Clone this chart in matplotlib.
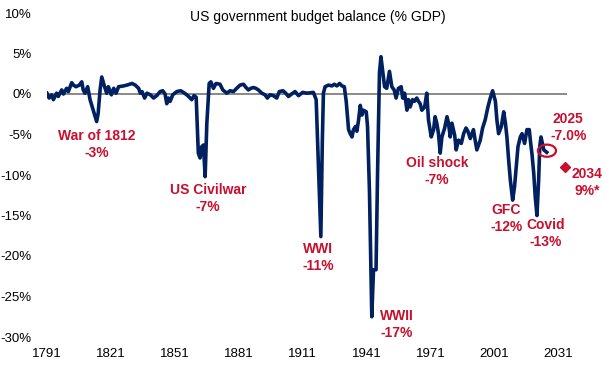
import matplotlib
matplotlib.use('Agg')
import matplotlib.pyplot as plt
from matplotlib.patches import Ellipse

plt.rcParams['font.family'] = ['Liberation Sans', 'DejaVu Sans']

# budget balance, % of GDP (vertex points)
years = [1791, 1792, 1793.2, 1794, 1795.5, 1796.3, 1797.9, 1798.7, 1800.2, 1801,
         1802.6, 1803.4, 1804.6, 1806.2, 1807.3, 1808, 1808.8, 1810.1, 1811.2, 1812.7,
         1814.3, 1815, 1815.9, 1816.7, 1817.9, 1819, 1819.8, 1821.2, 1822.3, 1823.4,
         1824.6, 1827, 1828.5, 1830.9, 1832.4, 1834, 1834.8, 1835.6, 1836.8, 1837.9,
         1839.5, 1841, 1842.5, 1844.1, 1845.3, 1846.4, 1847.2, 1848, 1848.8, 1850,
         1851.9, 1853.7, 1855, 1856.6, 1857.8, 1858.9, 1860, 1861, 1862, 1862.8,
         1863.6, 1864.4, 1865.2, 1866, 1867.1, 1867.9, 1869.1, 1870.3, 1872.2, 1873.5,
         1875.4, 1876.9, 1878.5, 1880, 1881.6, 1883.2, 1884.4, 1885.5, 1886.6, 1887.9,
         1889, 1890.2, 1891.8, 1893.3, 1894.4, 1895.7, 1897.2, 1898.8, 1900, 1901.7,
         1903, 1904.3, 1905.8, 1907.4, 1909, 1911, 1913, 1916, 1917.3, 1918.4,
         1919.5, 1920.2, 1920.7, 1921.5, 1923.1, 1924.7, 1925.8, 1927, 1928.3, 1929.4,
         1930.5, 1931.4, 1932.5, 1933.3, 1934.1, 1934.8, 1935.8, 1936.4, 1937.2, 1938,
         1938.8, 1939.5, 1940.8, 1941.4, 1942.3, 1943.4, 1944.2, 1945.4, 1946.1, 1947,
         1947.7, 1948.6, 1949.4, 1950.4, 1951.7, 1952.8, 1953.9, 1954.8, 1955.9, 1957.2,
         1957.9, 1958.8, 1959.9, 1960.6, 1961.4, 1962.5, 1963.4, 1964.5, 1965.3, 1966.1,
         1966.9, 1968.2, 1969.2, 1970, 1971.3, 1972.4, 1973.1, 1973.9, 1974.7, 1975.5,
         1976.3, 1977.6, 1978.7, 1979.4, 1980.2, 1981, 1982.3, 1983, 1984.1, 1985.4,
         1986.5, 1987.6, 1988.5, 1989.6, 1991.1, 1991.9, 1992.7, 1994.3, 1995.4, 1996.6,
         1997.9, 1999, 2000.1, 2001.4, 2002.1, 2002.9, 2004.2, 2005.3, 2006.1, 2006.8,
         2007.6, 2008.4, 2009.5, 2010.4, 2011.2, 2012, 2013.1, 2013.9, 2015.1, 2016.2,
         2017.3, 2017.8, 2018.6, 2019.4, 2020.1, 2020.9, 2021.7, 2022.2, 2022.8, 2024.1,
         2025.5]
balance = [0.1, -0.5, -0.1, -0.7, 0.1, -0.3, 0.5, 0.0, 0.7, 0.3,
           1.4, 1.1, 0.9, 1.1, 1.5, 0.5, 0.1, 0.9, -0.7, -2.0,
           -3.4, -2.4, 0.5, 2.1, 1.0, 0.1, 0.9, -0.1, 0.7, 0.1,
           0.9, 1.0, 1.1, 1.3, 1.1, 0.7, 0.1, 0.3, -0.5, 0.1,
           -0.1, -0.5, -0.2, 0.3, 0.4, 0.0, -1.2, -0.5, -0.9, -0.1,
           0.3, 0.4, 0.2, -0.1, -0.4, -0.7, -0.2, -0.4, -7.3, -7.9,
           -6.5, -6.3, -10.2, -3.6, 1.3, 1.5, 0.7, 1.3, 1.2, 0.5,
           0.1, 0.4, 0.3, 0.7, 1.1, 1.2, 0.8, 0.5, 0.7, 0.8,
           0.7, 0.5, 0.1, -0.1, -0.5, -0.1, -0.2, -0.5, 0.3, 0.4,
           0.1, -0.3, 0.0, 0.3, -0.2, 0.2, 0.1, 0.2, -0.7, -9.0,
           -17.6, -5.7, 0.1, 0.9, 1.1, 1.0, 1.2, 1.0, 1.3, 1.0,
           0.9, -0.9, -4.4, -4.9, -5.3, -4.4, -4.0, -4.6, -3.2, -1.4,
           -2.6, -2.0, -2.2, -4.0, -11.9, -27.5, -21.7, -21.7, -9.8, 2.6,
           4.6, 2.6, 0.9, 0.7, 2.8, 0.9, 0.5, -0.5, 0.7, 0.9,
           -0.5, 0.1, -2.0, -0.7, -1.6, -0.7, -0.9, -0.5, -0.9, -1.2,
           -2.0, -1.6, 0.1, -3.2, -5.3, -4.4, -2.8, -3.6, -4.9, -7.3,
           -5.3, -4.2, -2.8, -3.6, -5.3, -3.6, -5.1, -6.9, -5.7, -6.1,
           -4.9, -4.2, -4.6, -5.5, -4.4, -5.7, -6.9, -5.7, -4.2, -3.2,
           -1.6, -0.5, 0.4, -0.9, -3.2, -4.9, -4.0, -2.2, -3.6, -5.3,
           -8.1, -10.6, -13.1, -11.4, -9.0, -6.5, -5.3, -4.9, -6.1, -4.4,
           -4.4, -5.7, -7.5, -9.8, -12.7, -15.0, -10.6, -6.5, -5.3, -6.9,
           -7.2]

proj_year = 2034
proj_value = -9.0

yticks = [10, 5, 0, -5, -10, -15, -20, -25, -30]
xticks = [1791, 1821, 1851, 1881, 1911, 1941, 1971, 2001, 2031]

# (text, year, value) for the red call-outs
notes = [
    ('War of 1812\n-3%', 1814.5, -6.2),
    ('US Civilwar\n-7%', 1866.6, -12.9),
    ('WWI\n-11%', 1918.2, -20.2),
    ('WWII\n-17%', 1955.3, -28.5),
    ('Oil shock\n-7%', 1974.1, -9.6),
    ('GFC\n-12%', 2006.5, -15.4),
    ('Covid\n-13%', 2024.8, -17.2),
    ('2025\n-7.0%', 2035.6, -4.1),
    ('2034\n9%*', 2044.5, -10.9),
]

navy = '#002060'
red = '#C8102E'

fig = plt.figure(figsize=(6.05, 3.65), dpi=100)
ax = fig.add_axes([47/605, 1 - 337/365, 520/605, 324/365])

ax.axhline(0, color='#808080', lw=1.3, zorder=1)
ax.plot(years, balance, color=navy, lw=2.6, solid_joinstyle='round', zorder=2)
ax.plot([proj_year], [proj_value], marker='D', ms=5, color=red, zorder=3, clip_on=False)
ax.add_patch(Ellipse((2025.6, -7.0), 8.5, 1.5, fill=False, ec=red, lw=1.6, zorder=3))

for txt, x, y in notes:
    ax.text(x, y, txt, color=red, fontsize=10, fontweight='bold',
            ha='center', va='center', linespacing=1.25, zorder=4)

ax.set_xlim(1791, 2035)
ax.set_ylim(-30, 10)
ax.set_yticks(yticks)
ax.set_yticklabels([f'{v}%' for v in yticks])
ax.set_xticks(xticks)
ax.set_xticklabels([str(v) for v in xticks])
ax.tick_params(length=0, labelsize=9.5, labelcolor='black')
ax.tick_params(axis='y', pad=11)
ax.tick_params(axis='x', pad=8)
for s in ax.spines.values():
    s.set_visible(False)

fig.text(318/605, 1 - 17/365, 'US government budget balance (% GDP)',
         ha='center', va='center', fontsize=10)

fig.savefig('out.png', dpi=100)
